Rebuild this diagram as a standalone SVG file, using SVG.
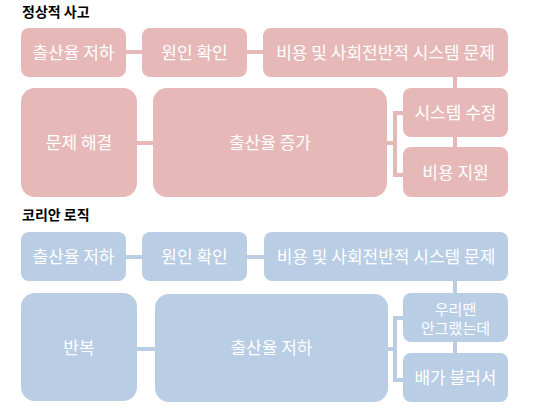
<svg xmlns="http://www.w3.org/2000/svg" width="540" height="410" viewBox="0 0 540 410">
<style>
.title{font-family:"Noto Sans CJK KR","Noto Sans",sans-serif;font-size:14px;font-weight:bold;fill:#000}
.lbl{font-family:"Noto Sans CJK KR","Noto Sans",sans-serif;font-size:17px;fill:#fff;text-anchor:middle}
.sm{font-size:15px}
.pk{fill:#E6B9B8}
.bl{fill:#B9CDE5}
.cpk{stroke:#E6B9B8;stroke-width:4;fill:none}
.cbl{stroke:#B9CDE5;stroke-width:4;fill:none}
</style>
<rect width="540" height="410" fill="#fff"/>
<text class="title" x="22" y="17">정상적 사고</text>
<text class="title" x="22" y="220">코리안 로직</text>
<g id="connectors">
<path class="cpk" d="M126 52H142M247 52H263M455 77V88M455 137V147M137 143H153M387 143H395M405 113H395V175H405"/>
<path class="cbl" d="M126 257H142M247 257H264M455 281V293M455 342V353M137 349H155M388 349H395M405 318H395V380H405"/>
</g>
<g id="n1"><rect class="pk" x="21" y="28" width="105" height="49" rx="8"/><text class="lbl" x="73.5" y="59">출산율 저하</text></g>
<g id="n2"><rect class="pk" x="142" y="28" width="105" height="49" rx="8"/><text class="lbl" x="194.5" y="59">원인 확인</text></g>
<g id="n3"><rect class="pk" x="263" y="28" width="245" height="49" rx="8"/><text class="lbl" x="385.5" y="59">비용 및 사회전반적 시스템 문제</text></g>
<g id="n4"><rect class="pk" x="21" y="88" width="116" height="109" rx="14"/><text class="lbl" x="79" y="149">문제 해결</text></g>
<g id="n5"><rect class="pk" x="153" y="88" width="234" height="109" rx="14"/><text class="lbl" x="270" y="149">출산율 증가</text></g>
<g id="n6"><rect class="pk" x="403" y="88" width="105" height="49" rx="8"/><text class="lbl" x="455.5" y="119">시스템 수정</text></g>
<g id="n7"><rect class="pk" x="403" y="147" width="105" height="50" rx="8"/><text class="lbl" x="455.5" y="178.5">비용 지원</text></g>
<g id="m1"><rect class="bl" x="21" y="232" width="105" height="49" rx="8"/><text class="lbl" x="73.5" y="263">출산율 저하</text></g>
<g id="m2"><rect class="bl" x="142" y="232" width="105" height="49" rx="8"/><text class="lbl" x="194.5" y="263">원인 확인</text></g>
<g id="m3"><rect class="bl" x="264" y="232" width="244" height="49" rx="8"/><text class="lbl" x="386" y="263">비용 및 사회전반적 시스템 문제</text></g>
<g id="m4"><rect class="bl" x="21" y="293" width="116" height="108" rx="14"/><text class="lbl" x="79" y="354">반복</text></g>
<g id="m5"><rect class="bl" x="155" y="294" width="233" height="108" rx="14"/><text class="lbl" x="271.5" y="354">출산율 저하</text></g>
<g id="m6"><rect class="bl" x="403" y="293" width="105" height="49" rx="8"/><text class="lbl sm" x="455.5" y="315">우리땐</text><text class="lbl sm" x="455.5" y="334">안그랬는데</text></g>
<g id="m7"><rect class="bl" x="403" y="353" width="105" height="49" rx="8"/><text class="lbl" x="455.5" y="384">배가 불러서</text></g>
</svg>
